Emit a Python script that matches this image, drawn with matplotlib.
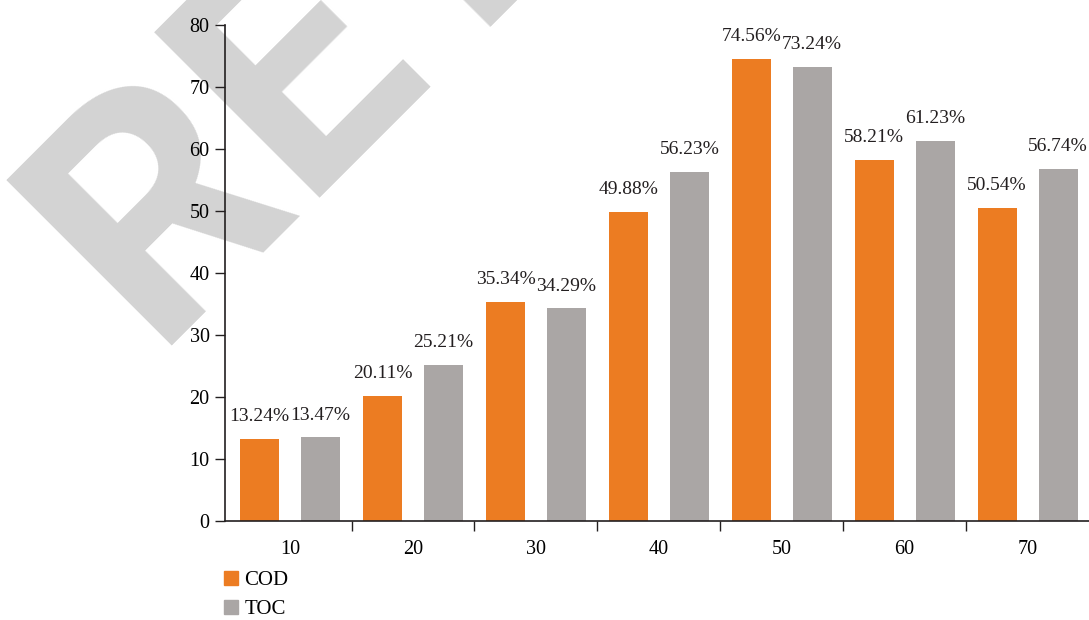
# COD / TOC removal rates by category

import numpy as np
import matplotlib.pyplot as plt
from matplotlib.patches import Patch

# data
categories = ['10', '20', '30', '40', '50', '60', '70']
cod = [13.24, 20.11, 35.34, 49.88, 74.56, 58.21, 50.54]
toc = [13.47, 25.21, 34.29, 56.23, 73.24, 61.23, 56.74]

cod_color = '#EC7C22'
toc_color = '#AAA6A5'

plt.rcParams['font.family'] = ['Liberation Serif', 'DejaVu Serif']

fig = plt.figure(figsize=(10.89, 6.20), dpi=100)
ax = fig.add_axes([225/1089, 1 - 521/620, 1 - 225/1089, (521 - 25)/620])
ax.set_facecolor('none')

# watermark behind the axes
fig.text(151/1089, 1 - 346/620, 'RETRACTED', rotation=45, rotation_mode='anchor',
         ha='left', va='baseline', fontsize=237, fontweight='bold',
         family='Roboto', color='#D3D3D3', zorder=-1)

x = np.arange(len(categories))
w = 0.317
bars_cod = ax.bar(x - 0.248, cod, w, color=cod_color, label='COD', zorder=2)
bars_toc = ax.bar(x + 0.248, toc, w, color=toc_color, label='TOC', zorder=2)

for bars, vals in [(bars_cod, cod), (bars_toc, toc)]:
	for b, v in zip(bars, vals):
		ax.annotate(f'{v:.2f}%', (b.get_x() + b.get_width()/2, v), xytext=(0, 10),
		            textcoords='offset points', ha='center', va='bottom', fontsize=14,
		            color='#231F20')

ax.set_xlim(-0.53, 6.5)
ax.set_ylim(0, 80)
ax.set_yticks(range(0, 81, 10))

# category labels in the middle, ticks at the boundaries
ax.set_xticks(np.arange(0.5, 6.5, 1.0))
ax.set_xticklabels([])
ax.set_xticks(x, minor=True)
ax.set_xticklabels(categories, minor=True)
ax.tick_params(axis='x', which='minor', length=0, pad=14, labelsize=14.5)
ax.tick_params(axis='x', which='major', length=7, width=1, color='#231F20')
ax.tick_params(axis='y', length=7, width=1, labelsize=14.5, color='#231F20', pad=4)

for s in ['top', 'right']:
	ax.spines[s].set_visible(False)
for s in ['left', 'bottom']:
	ax.spines[s].set_color('#231F20')
	ax.spines[s].set_linewidth(1.2)

handles = [Patch(color=cod_color, label='COD'), Patch(color=toc_color, label='TOC')]
fig.legend(handles=handles, loc='upper left', bbox_to_anchor=(224/1089, 1 - 571/620),
           frameon=False, fontsize=15, handlelength=0.67, handleheight=0.67,
           handletextpad=0.3, labelspacing=0.45, borderpad=0, borderaxespad=0)

plt.savefig('out.png', dpi=100)
plt.close()
